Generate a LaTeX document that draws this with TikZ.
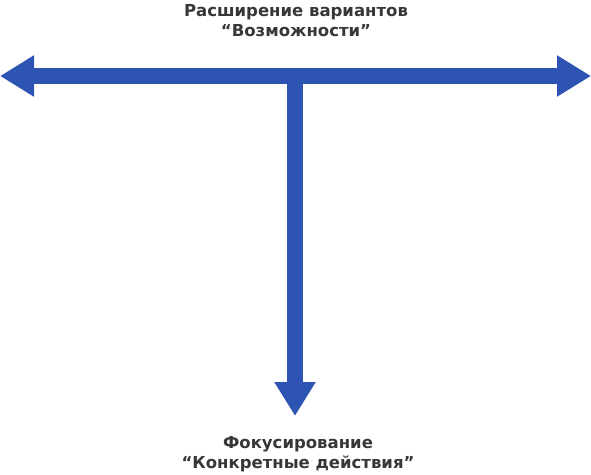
\documentclass[tikz,border=0pt]{standalone}
\usepackage{fontspec}
\setmainfont{DejaVu Sans}
\usetikzlibrary{arrows.meta}
\definecolor{arrowblue}{RGB}{45,84,178}
\definecolor{textgrey}{RGB}{55,55,55}
\tikzset{
  bigarrow/.style={draw=arrowblue, line width=16pt, -{Triangle[length=34pt,width=39pt]}},
  lbl/.style={text=textgrey, font=\bfseries\fontsize{16.5}{19.5}\selectfont, align=center, inner sep=0pt}
}
\begin{document}
\begin{tikzpicture}[x=1pt,y=-1pt]
\useasboundingbox (0,0) rectangle (591,474);
\coordinate (L) at (0,76);
\coordinate (R) at (591,76);
\coordinate (J) at (295,76);
\coordinate (D) at (295,416);
\draw[bigarrow] (J) -- (D);
\draw[bigarrow] (J) -- (L);
\draw[bigarrow] (J) -- (R);
\node[lbl, anchor=base] (top) at (296,36) {Расширение вариантов\\“Возможности”};
\node[lbl, anchor=base] (bot) at (298,468) {Фокусирование\\“Конкретные действия”};
\end{tikzpicture}
\end{document}
